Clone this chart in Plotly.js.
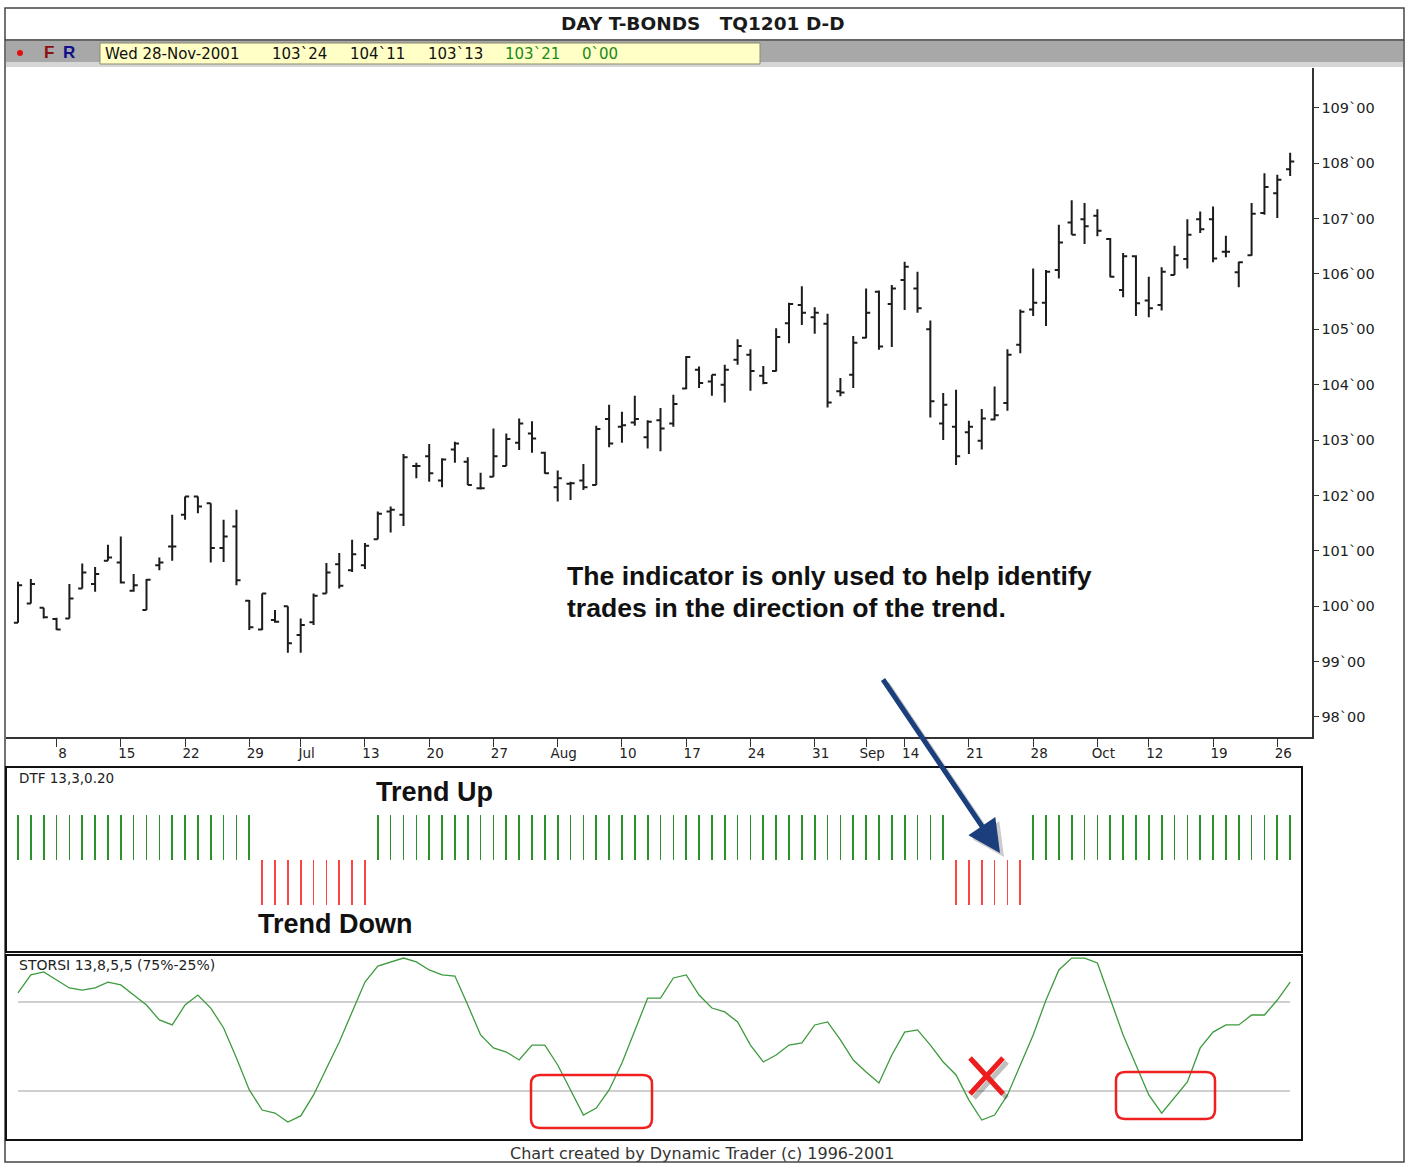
<!DOCTYPE html>
<html><head><meta charset="utf-8">
<script src="https://cdn.plot.ly/plotly-3.0.1.min.js"></script>
<style>html,body{margin:0;padding:0;background:#fff}#chart{width:1410px;height:1164px}</style>
</head><body><div id="chart"></div>
<script>
// Trading days (2001)
const junDays = [5,6,7,8,11,12,13,14,15,18,19,20,21,22,25,26,27,28,29];
const julDays = [2,3,5,6,9,10,11,12,13,16,17,18,19,20,23,24,25,26,27,30,31];
const augDays = [1,2,3,6,7,8,9,10,13,14,15,16,17,20,21,22,23,24,27,28,29,30,31];
const sepDays = [4,5,6,7,10,13,14,17,18,19,20,21,24,25,26,27,28];
const octDays = [1,2,3,4,5,9,10,11,12,15,16,17,18,19,22,23,24,25,26,29];
const monthNames = ['Jan','Feb','Mar','Apr','May','Jun','Jul','Aug','Sep','Oct','Nov','Dec'];

const openP  = [99.70,100.05,99.97,99.77,99.78,100.32,100.40,100.82,100.79,100.28,
  99.93,100.74,101.08,101.65,101.98,101.86,101.05,101.44,100.10,99.58,
  99.75,100.00,99.48,99.71,100.23,100.76,100.65,100.74,101.21,101.71,
  101.65,102.53,102.71,102.27,102.83,102.61,102.13,102.34,102.53,102.95,
  103.12,102.77,102.15,102.21,102.27,102.19,103.38,103.24,103.32,103.05,
  103.36,103.30,103.93,104.27,104.06,104.00,104.45,104.54,104.16,104.25,
  105.11,105.44,105.22,105.10,103.88,104.18,104.85,105.68,105.46,105.89,
  105.74,105.00,103.30,103.24,103.14,102.99,103.37,103.67,104.72,105.36,
  105.48,106.07,106.93,106.99,107.05,106.63,105.71,106.32,105.52,105.44,
  105.98,106.27,106.99,106.99,106.40,106.03,106.34,107.10,107.46,107.89];
const highP  = [100.44,100.49,99.97,99.79,100.40,100.77,100.71,101.11,101.26,100.58,
  100.49,100.88,101.65,101.98,101.98,101.86,101.56,101.74,100.11,100.23,
  99.93,100.00,99.78,100.23,100.78,100.96,101.20,101.14,101.71,101.80,
  102.75,102.59,102.93,102.67,102.97,102.69,102.41,103.21,103.12,103.39,
  103.34,102.79,102.45,102.25,102.57,103.26,103.64,103.51,103.80,103.36,
  103.58,103.82,104.52,104.33,104.18,104.36,104.82,104.64,104.34,105.02,
  105.48,105.78,105.40,105.28,104.12,104.88,105.74,105.70,105.80,106.22,
  106.04,105.16,103.85,103.91,103.35,103.56,103.97,104.64,105.36,106.10,
  106.07,106.89,107.33,107.28,107.17,106.65,106.38,106.34,105.95,106.12,
  106.51,106.99,107.13,107.22,106.69,106.22,107.28,107.82,107.79,108.19];
const lowP   = [99.70,100.05,99.78,99.57,99.78,100.32,100.26,100.82,100.41,100.26,
  99.93,100.65,100.82,101.56,101.68,100.79,100.80,100.38,99.57,99.57,
  99.70,99.16,99.16,99.66,100.23,100.32,100.62,100.67,101.21,101.33,
  101.45,102.31,102.25,102.15,102.59,102.19,102.11,102.34,102.53,102.82,
  102.77,102.39,101.89,101.92,102.10,102.19,102.87,102.95,103.26,102.85,
  102.80,103.24,103.92,103.94,103.80,103.68,104.36,103.89,104.01,104.24,
  104.75,105.08,104.92,103.59,103.79,103.94,104.84,104.63,104.68,105.35,
  105.30,103.41,103.00,102.55,102.75,102.83,103.36,103.53,104.57,105.24,
  105.06,105.92,106.71,106.54,106.68,105.94,105.58,105.24,105.22,105.34,
  105.98,106.10,106.74,106.21,106.30,105.76,106.33,107.07,107.01,107.77];
const closeP = [100.38,100.40,99.80,99.58,100.14,100.61,100.58,100.88,100.43,100.38,
  100.48,100.79,101.08,101.98,101.80,101.05,101.26,100.47,99.62,100.23,
  99.72,99.33,99.66,100.19,100.61,100.37,100.94,101.09,101.67,101.74,
  102.69,102.53,102.40,102.65,102.94,102.19,102.13,102.71,103.02,103.30,
  103.03,102.40,102.31,102.22,102.15,103.20,102.94,103.27,103.38,103.33,
  103.21,103.65,104.50,104.03,104.18,104.27,104.70,104.25,104.03,104.86,
  105.46,105.30,105.30,103.68,103.86,104.76,105.30,104.69,105.74,106.13,
  105.38,103.70,103.64,102.71,103.24,103.39,103.45,104.54,105.32,105.48,
  106.04,106.57,106.71,106.86,106.78,105.95,106.32,105.47,105.38,106.04,
  106.34,106.71,106.81,106.28,106.40,106.21,107.09,107.57,107.70,108.03];

const storsi = [80.1,90.2,91.9,87.4,82.9,81.7,82.9,86.2,84.6,78.9,
  73.3,64.9,62.1,73.3,78.9,71.6,60.4,43.5,25.6,14.3,
  12.6,7.6,11.0,22.8,37.9,52.5,69.4,86.2,95.2,97.5,
  99.7,97.5,93.0,90.2,89.6,73.3,56.5,49.2,46.9,42.4,
  50.8,50.8,39.6,25.6,11.5,15.4,25.6,40.7,59.3,77.2,
  77.2,88.5,90.2,78.9,71.6,69.4,63.8,50.8,41.3,45.2,
  50.8,52.0,62.1,63.8,53.7,42.4,35.7,29.5,45.2,58.1,
  59.3,50.8,41.3,34.0,19.9,8.7,11.5,22.8,39.6,56.5,
  76.1,93.0,99.7,99.7,96.9,76.1,56.5,39.6,22.8,12.6,
  21.1,30.1,49.2,58.1,62.1,62.1,67.7,67.7,76.1,86.2];
const storsiUpper = 75, storsiLower = 25;

// DTF trend runs: [direction, number of bars]
const trendRuns = [[1,19],[-1,9],[1,45],[-1,6],[1,21]];

const priceTicks = [98,99,100,101,102,103,104,105,106,107,108,109];
const priceTickText = priceTicks.map(v => v + '`00');

// ---- build categories ----
const monthBlocks = [[5,junDays],[6,julDays],[7,augDays],[8,sepDays],[9,octDays]];
const dates = [];
const tickVals = [], tickText = [];
monthBlocks.forEach(([m, days]) => {
  days.forEach(d => {
    const s = '2001-' + String(m+1).padStart(2,'0') + '-' + String(d).padStart(2,'0');
    dates.push(s);
    const dow = new Date(Date.UTC(2001, m, d)).getUTCDay();
    if (dow === 5) { tickVals.push(s); tickText.push(d <= 7 ? monthNames[m] : String(d)); }
  });
});
const trend = [];
trendRuns.forEach(([dir, n]) => { for (let k = 0; k < n; k++) trend.push(dir); });

// ---- geometry helpers (page pixels -> paper) ----
const W = 1410, H = 1164;
const px = x => x / W, py = y => 1 - y / H;
const FONT = 'DejaVu Sans, Liberation Sans, sans-serif';
const ARIAL = 'Liberation Sans, Arial, sans-serif';

const traces = [
  { type: 'ohlc', x: dates, open: openP, high: highP, low: lowP, close: closeP,
    xaxis: 'x', yaxis: 'y', tickwidth: 0.32,
    increasing: { line: { color: '#1c1c1c', width: 2 } },
    decreasing: { line: { color: '#1c1c1c', width: 2 } },
    hoverinfo: 'skip', showlegend: false },
  { type: 'bar', x: dates, y: trend, xaxis: 'x2', yaxis: 'y2', width: 0.13,
    marker: { color: trend.map(t => t > 0 ? '#2a922a' : '#ff4444'), line: { width: 0 } },
    hoverinfo: 'skip', showlegend: false },
  { type: 'scatter', mode: 'lines', x: [dates[0], dates[dates.length-1]], y: [storsiUpper, storsiUpper],
    xaxis: 'x3', yaxis: 'y3', line: { color: '#a0a0a0', width: 1 }, hoverinfo: 'skip', showlegend: false },
  { type: 'scatter', mode: 'lines', x: [dates[0], dates[dates.length-1]], y: [storsiLower, storsiLower],
    xaxis: 'x3', yaxis: 'y3', line: { color: '#a0a0a0', width: 1 }, hoverinfo: 'skip', showlegend: false },
  { type: 'scatter', mode: 'lines', x: dates, y: storsi, xaxis: 'x3', yaxis: 'y3',
    line: { color: '#3d9a3d', width: 1.3 }, hoverinfo: 'skip', showlegend: false }
];

function roundRect(x0, y0, x1, y1, r) {
  const X = v => px(v).toFixed(5), Y = v => py(v).toFixed(5);
  return 'M' + X(x0 + r) + ',' + Y(y0) + ' L' + X(x1 - r) + ',' + Y(y0) +
    ' Q' + X(x1) + ',' + Y(y0) + ' ' + X(x1) + ',' + Y(y0 + r) +
    ' L' + X(x1) + ',' + Y(y1 - r) +
    ' Q' + X(x1) + ',' + Y(y1) + ' ' + X(x1 - r) + ',' + Y(y1) +
    ' L' + X(x0 + r) + ',' + Y(y1) +
    ' Q' + X(x0) + ',' + Y(y1) + ' ' + X(x0) + ',' + Y(y1 - r) +
    ' L' + X(x0) + ',' + Y(y0 + r) +
    ' Q' + X(x0) + ',' + Y(y0) + ' ' + X(x0 + r) + ',' + Y(y0) + ' Z';
}
const rect = (x0, y0, x1, y1, line, fill) => ({ type: 'rect', xref: 'paper', yref: 'paper',
  x0: px(x0), x1: px(x1), y0: py(y1), y1: py(y0), line: line, fillcolor: fill || 'rgba(0,0,0,0)', layer: 'above' });
const seg = (x0, y0, x1, y1, color, width) => ({ type: 'line', xref: 'paper', yref: 'paper',
  x0: px(x0), x1: px(x1), y0: py(y0), y1: py(y1), line: { color: color, width: width }, layer: 'above' });

const shapes = [
  rect(6, 41, 1403, 66, { width: 0 }, '#a8a8a8'),
  rect(6, 62, 1403, 67, { width: 0 }, '#d6d6d6'),
  rect(100, 43, 760, 64, { color: '#8a8a70', width: 1 }, '#ffffc6'),
  seg(5, 40, 1404, 40, '#333', 1.5),
  rect(5, 8, 1404, 1162, { color: '#444', width: 1.5 }),
  { type: 'circle', xref: 'paper', yref: 'paper', x0: px(17), x1: px(23), y0: py(56), y1: py(50),
    fillcolor: '#e01010', line: { width: 0 } },
  rect(6, 767, 1302, 952, { color: '#111', width: 2 }),
  rect(6, 955, 1302, 1140, { color: '#111', width: 2 }),
  // highlight boxes in the STORSI panel
  { type: 'path', xref: 'paper', yref: 'paper', path: roundRect(531, 1075, 652, 1128, 9),
    line: { color: '#ee2020', width: 2.5 }, layer: 'above' },
  { type: 'path', xref: 'paper', yref: 'paper', path: roundRect(1116, 1072, 1215, 1119, 9),
    line: { color: '#ee2020', width: 2.5 }, layer: 'above' },
  // red cross with shadow
  seg(974, 1062, 1007, 1098, 'rgba(0,0,0,0.25)', 5),
  seg(1007, 1062, 974, 1098, 'rgba(0,0,0,0.25)', 5),
  seg(970, 1058, 1003, 1094, '#ee1c1c', 5),
  seg(1003, 1058, 970, 1094, '#ee1c1c', 5)
];

const ann = (x, y, text, opts) => Object.assign({ xref: 'paper', yref: 'paper', x: px(x), y: py(y),
  text: text, showarrow: false, xanchor: 'left', yanchor: 'middle',
  font: { family: FONT, size: 14, color: '#222' } }, opts || {});
const nb = s => s.replace(/ /g, '\u00a0');

const annotations = [
  ann(703, 23, nb('DAY T-BONDS   TQ1201 D-D'), { xanchor: 'center', font: { family: FONT, size: 18.5, color: '#1a1a1a', weight: 'bold' } }),
  ann(42, 53, 'F', { font: { family: ARIAL, size: 17, color: '#8b1010', weight: 'bold' } }),
  ann(61, 53, 'R', { font: { family: ARIAL, size: 17, color: '#10108b', weight: 'bold' } }),
  ann(103, 54, 'Wed 28-Nov-2001', { font: { family: FONT, size: 15, color: '#111' } }),
  ann(270, 54, '103`24', { font: { family: FONT, size: 15, color: '#111' } }),
  ann(348, 54, '104`11', { font: { family: FONT, size: 15, color: '#111' } }),
  ann(426, 54, '103`13', { font: { family: FONT, size: 15, color: '#111' } }),
  ann(503, 54, '103`21', { font: { family: FONT, size: 15, color: '#1a8a1a' } }),
  ann(580, 54, '0`00', { font: { family: FONT, size: 15, color: '#1a8a1a' } }),
  ann(565, 576, 'The indicator is only used to help identify', { font: { family: ARIAL, size: 26.6, color: '#111', weight: 'bold' } }),
  ann(565, 608, 'trades in the direction of the trend.', { font: { family: ARIAL, size: 26.6, color: '#111', weight: 'bold' } }),
  ann(17, 778, 'DTF 13,3,0.20', { font: { family: FONT, size: 13.5, color: '#222' } }),
  ann(374, 792, 'Trend Up', { font: { family: ARIAL, size: 27, color: '#111', weight: 'bold' } }),
  ann(256, 924, 'Trend Down', { font: { family: ARIAL, size: 27, color: '#111', weight: 'bold' } }),
  ann(17, 965, 'STORSI 13,8,5,5 (75%-25%)', { font: { family: FONT, size: 14, color: '#222' } }),
  ann(702, 1153, 'Chart created by Dynamic Trader (c) 1996-2001', { xanchor: 'center', font: { family: FONT, size: 16, color: '#333' } }),
  // arrow shadow + arrow
  { xref: 'paper', yref: 'paper', x: px(1004), y: py(857), ax: -118, ay: -175, axref: 'pixel', ayref: 'pixel',
    text: '', showarrow: true, arrowhead: 2, arrowsize: 1.3, arrowwidth: 5, arrowcolor: 'rgba(0,0,0,0.2)', standoff: 0 },
  { xref: 'paper', yref: 'paper', x: px(1000), y: py(853), ax: -118, ay: -175, axref: 'pixel', ayref: 'pixel',
    text: '', showarrow: true, arrowhead: 2, arrowsize: 1.3, arrowwidth: 5, arrowcolor: '#1b3f7c', standoff: 0 }
];

const layout = {
  width: W, height: H, margin: { l: 0, r: 0, t: 0, b: 0 },
  paper_bgcolor: '#ffffff', plot_bgcolor: '#ffffff', showlegend: false,
  xaxis: { type: 'category', categoryorder: 'array', categoryarray: dates,
    domain: [px(6), px(1312)], range: [-0.934, 100.70], anchor: 'y',
    showline: true, linecolor: '#333', linewidth: 1.5, ticks: 'outside', ticklen: 8, tickcolor: '#333',
    tickmode: 'array', tickvals: tickVals, ticktext: tickText, ticklabelshift: 6, ticklabelstandoff: -5,
    tickfont: { family: FONT, size: 13.5, color: '#222' }, showgrid: false, zeroline: false,
    rangeslider: { visible: false }, fixedrange: true },
  yaxis: { domain: [py(737), py(68)], range: [97.638, 109.72], anchor: 'x', side: 'right',
    showline: true, linecolor: '#333', linewidth: 1.5, ticks: 'outside', ticklen: 5, tickcolor: '#333',
    tickmode: 'array', tickvals: priceTicks, ticktext: priceTickText,
    tickfont: { family: FONT, size: 14.5, color: '#222' }, showgrid: false, zeroline: false, fixedrange: true },
  xaxis2: { type: 'category', categoryorder: 'array', categoryarray: dates,
    domain: [px(6), px(1302)], range: [-0.934, 99.92], anchor: 'y2', visible: false, fixedrange: true },
  yaxis2: { domain: [py(952), py(767)], range: [-2.044, 2.067], anchor: 'x2', visible: false, fixedrange: true },
  xaxis3: { type: 'category', categoryorder: 'array', categoryarray: dates,
    domain: [px(6), px(1302)], range: [-0.934, 99.92], anchor: 'y3', visible: false, fixedrange: true },
  yaxis3: { domain: [py(1140), py(955)], range: [-2.53, 101.4], anchor: 'x3', visible: false, fixedrange: true },
  shapes: shapes, annotations: annotations, bargap: 0
};

Plotly.newPlot('chart', traces, layout, { displayModeBar: false, staticPlot: true });
</script>
</body></html>
